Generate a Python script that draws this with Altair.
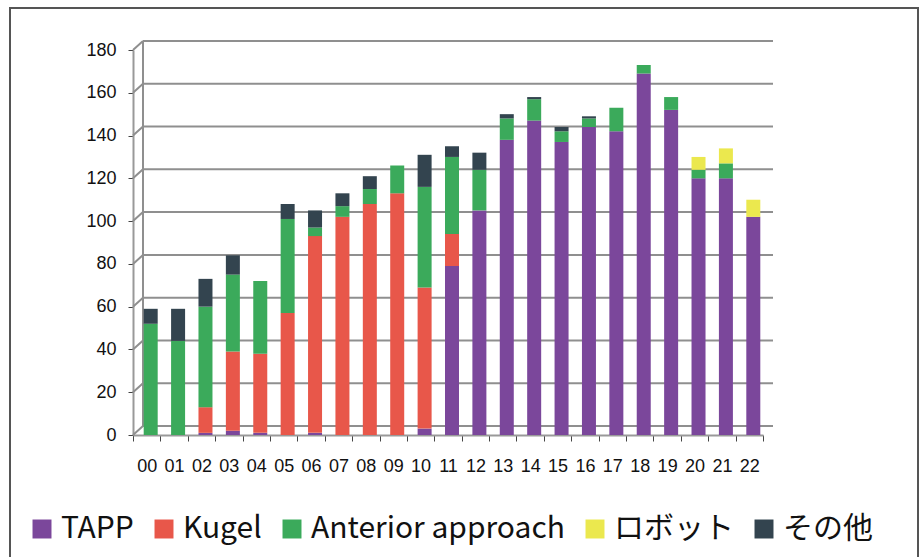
import altair as alt
import pandas as pd

years = ["00", "01", "02", "03", "04", "05", "06", "07", "08", "09", "10", "11",
         "12", "13", "14", "15", "16", "17", "18", "19", "20", "21", "22"]
series = ["TAPP", "Kugel", "Anterior approach", "ロボット", "その他"]
colors = ["#7B479B", "#E8574A", "#3BAA5B", "#EBE84E", "#33444F"]

tapp = [0, 0, 1, 2, 1, 0, 1, 0, 0, 0, 3, 79, 105, 138, 147, 137, 144, 142, 169, 152, 120, 120, 102]
kugel = [0, 0, 12, 37, 37, 57, 92, 102, 108, 113, 66, 15, 0, 0, 0, 0, 0, 0, 0, 0, 0, 0, 0]
anterior = [52, 44, 47, 36, 34, 44, 4, 5, 7, 13, 47, 36, 19, 10, 10, 5, 4, 11, 4, 6, 4, 7, 0]
robot = [0, 0, 0, 0, 0, 0, 0, 0, 0, 0, 0, 0, 0, 0, 0, 0, 0, 0, 0, 0, 6, 7, 8]
other = [7, 15, 13, 9, 0, 7, 8, 6, 6, 0, 15, 5, 8, 2, 1, 2, 1, 0, 0, 0, 0, 0, 0]

y_ticks = [0, 20, 40, 60, 80, 100, 120, 140, 160, 180]

rows = []
for si, (name, vals) in enumerate(zip(series, [tapp, kugel, anterior, robot, other])):
    for yr, v in zip(years, vals):
        if v > 0:
            rows.append({"year": yr, "series": name, "value": v, "idx": si})
df = pd.DataFrame(rows)
tick_df = pd.DataFrame({"t": y_ticks})

yscale = alt.Scale(domain=[0, 180], nice=False, zero=True)
yaxis = alt.Axis(title=None, values=y_ticks, grid=False, labelFont="Liberation Sans",
                 labelFontSize=18, labelColor="#111", tickColor="#444", tickSize=5,
                 labelPadding=12, domainColor="#999", domainWidth=2)
GRID = "#8f8f8f"
DEPTH = 9
SHIFT = 10

grid = alt.Chart(tick_df).mark_rule(color=GRID, strokeWidth=2, yOffset=-DEPTH).encode(
    y=alt.Y("t:Q", scale=yscale, axis=yaxis),
    x=alt.value(SHIFT), x2=alt.value(630 + SHIFT),
)
diag = alt.Chart(tick_df).mark_rule(color=GRID, strokeWidth=2, y2Offset=-DEPTH).encode(
    y=alt.Y("t:Q", scale=yscale, axis=yaxis), y2=alt.Y2("t"),
    x=alt.value(0), x2=alt.value(SHIFT),
)
wall = alt.Chart(tick_df).mark_rule(color=GRID, strokeWidth=2, yOffset=-DEPTH, y2Offset=-DEPTH).encode(
    y=alt.Y("min(t):Q", scale=yscale, axis=yaxis), y2=alt.Y2("max(t)"),
    x=alt.value(SHIFT),
)

bars = alt.Chart(df).mark_bar(size=14, xOffset=4).encode(
    x=alt.X("year:N", sort=years,
            scale=alt.Scale(domain=years, paddingInner=0, paddingOuter=0),
            axis=alt.Axis(title=None, labelAngle=0, tickBand="extent", labelFont="Liberation Sans",
                          labelFontSize=18, labelColor="#111", tickColor="#444", tickSize=6,
                          labelPadding=16, domainColor="#999", domainWidth=2)),
    y=alt.Y("value:Q", stack="zero", scale=yscale, axis=yaxis),
    color=alt.Color("series:N", scale=alt.Scale(domain=series, range=colors),
                    legend=alt.Legend(title=None, orient="none", legendX=-106, legendY=464,
                                      direction="horizontal", symbolType="square", symbolSize=360,
                                      symbolStrokeWidth=0, symbolOpacity=1,
                                      labelFont="Liberation Sans Narrow, Noto Sans CJK JP",
                                      labelFontSize=30, labelColor="#111", labelOffset=4,
                                      columnPadding=15, labelLimit=400)),
    order=alt.Order("idx:Q", sort="ascending"),
)

frame = alt.Chart(tick_df).mark_rect(fill=None, stroke="#555", strokeWidth=1.5).encode(
    x=alt.value(-123), x2=alt.value(785), y=alt.value(-42), y2=alt.value(530),
)

chart = alt.layer(grid, diag, wall, bars, frame).properties(
    width=630, height=385,
    padding={"left": 133, "top": 50, "right": 157, "bottom": 122},
    autosize=alt.AutoSizeParams(type="none"),
    background="white",
).configure_view(stroke=None)

chart.save("out.html", embed_options={"renderer": "svg", "actions": False})
